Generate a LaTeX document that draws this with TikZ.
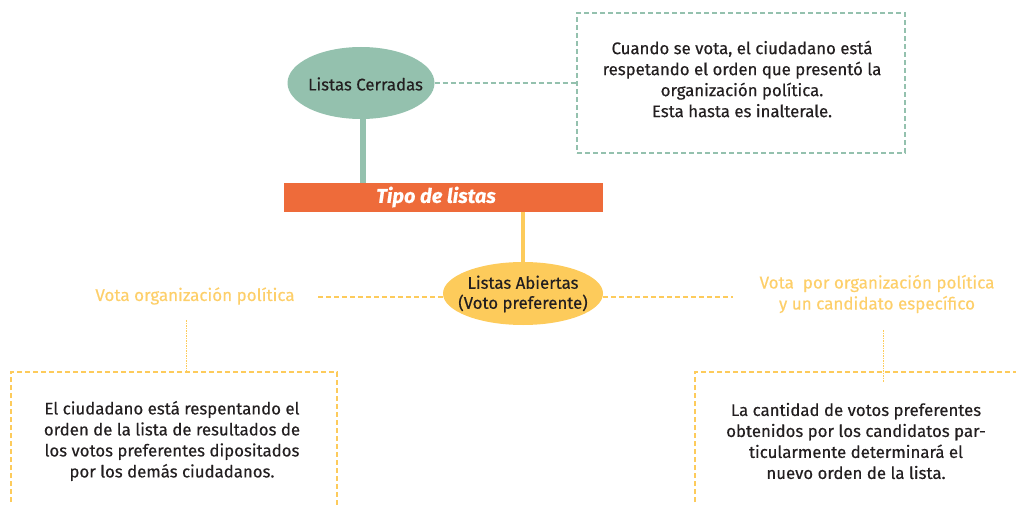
\documentclass[tikz,border=0pt]{standalone}
\usepackage{fontspec}
\setmainfont{Fira Sans}[FakeBold=0.4]
\usetikzlibrary{shapes.geometric}
\definecolor{cgreen}{HTML}{94C1AE}
\definecolor{corange}{HTML}{EE6B3A}
\definecolor{cyellow}{HTML}{FDCB5B}
\definecolor{cyeltext}{HTML}{FDCF6A}
\definecolor{ctext}{HTML}{231F20}
\tikzset{
  body/.style={align=center, text=ctext, font=\fontsize{16.8}{21}\selectfont, inner sep=0pt},
  ytext/.style={align=center, text=cyeltext, font=\fontsize{17}{21}\selectfont, inner sep=0pt},
  gdash/.style={draw=cgreen, line width=1.5pt, dash pattern=on 5pt off 3pt},
  ydash/.style={draw=cyellow, line width=1.5pt, dash pattern=on 5pt off 3pt},
  ydot/.style={draw=cyellow, line width=0.8pt, dash pattern=on 1.5pt off 1pt},
}
\begin{document}
\begin{tikzpicture}[x=1pt,y=-1pt]
\useasboundingbox (0,0) rectangle (1016,505);
\clip (0,0) rectangle (1016,505);

% Listas Cerradas
\node[ellipse, fill=cgreen, minimum width=147pt, minimum height=72pt, inner sep=0pt] (lc) at (361,83) {};
\node[body] (lct) at (365.5,84) {Listas Cerradas};

% green box
\node[gdash, minimum width=328pt, minimum height=140pt, inner sep=0pt] (gb) at (741,83) {};
\node[body] (gbt) at (742,79) {Cuando se vota, el ciudadano está\\respetando el orden que presentó la\\organización política.\\Esta hasta es inalterale.};
\draw[gdash] (lc.east) -- (gb.west);

% Tipo de listas bar
\node[fill=corange, minimum width=319pt, minimum height=29pt, inner sep=0pt] (tl) at (443.5,197.5) {};
\node[text=white, font=\bfseries\itshape\fontsize{20}{22}\selectfont, inner sep=0pt] (tlt) at (436,197) {Tipo de listas};
\draw[cgreen, line width=6pt] (lc.south -| 363,0) -- (tl.north -| 363,0);

% Listas Abiertas
\node[ellipse, fill=cyellow, minimum width=160pt, minimum height=63pt, inner sep=0pt] (la) at (523,293.5) {};
\node[body, font=\fontsize{16.8}{20}\selectfont] (lat) at (523,294) {Listas Abiertas\\(Voto preferente)};
\draw[cyellow, line width=4pt] (tl.south -| la.north) -- (la.north);

% left branch
\node[ytext] (vl) at (195,296) {Vota organización política};
\coordinate (vlend) at (317,297);
\draw[ydash] (la.west |- vlend) -- (vlend);
\coordinate (lboxtop) at (186,372);
\draw[ydot] (186,320) -- (lboxtop);
\draw[ydash] (11,510) -- (11,372) -- (337,372) -- (337,510);
\node[body] (lbt) at (172,441) {El ciudadano está respentando el\\orden de la lista de resultados de\\los votos preferentes dipositados\\por los demás ciudadanos.};

% right branch
\node[ytext] (vr) at (877,294) {Vota \ por organización política\\y un candidato específico};
\coordinate (vrend) at (733,297);
\draw[ydash] (la.east |- vrend) -- (vrend);
\coordinate (rboxtop) at (883,372);
\draw[ydot] (883,330) -- (883,382);
\draw[ydash] (695,510) -- (695,372) -- (1020,372);
\node[body] (rbt) at (856,441) {La cantidad de votos preferentes\\obtenidos por los candidatos par-\\ticularmente determinará el\\nuevo orden de la lista.};
\end{tikzpicture}
\end{document}
